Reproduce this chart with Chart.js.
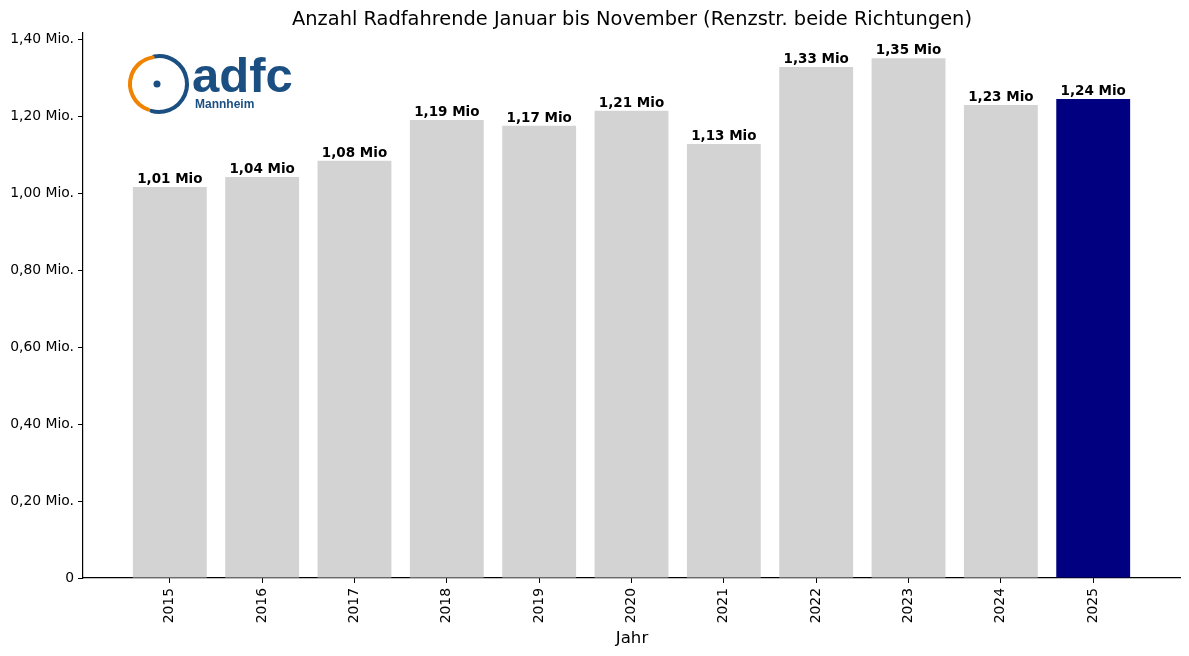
<!DOCTYPE html>
<html>
<head>
<meta charset="utf-8">
<script src="https://cdn.jsdelivr.net/npm/chart.js@4.4.1/dist/chart.umd.min.js"></script>
<style>
  html, body { margin: 0; padding: 0; background: #fff; }
  canvas { display: block; }
</style>
</head>
<body>
<canvas id="barChart" width="1189" height="656"></canvas>
<script>
// Radfahrende Renzstr., Jan-Nov, in Mio.
const years = ["2015","2016","2017","2018","2019","2020","2021","2022","2023","2024","2025"];
const riders = [1.017, 1.043, 1.085, 1.191, 1.176, 1.215, 1.129, 1.329, 1.352, 1.230, 1.246];
const barLabels = ["1,01 Mio","1,04 Mio","1,08 Mio","1,19 Mio","1,17 Mio","1,21 Mio","1,13 Mio","1,33 Mio","1,35 Mio","1,23 Mio","1,24 Mio"];
const yTicks = [0, 0.2, 0.4, 0.6, 0.8, 1.0, 1.2, 1.4];

const FONT = "'DejaVu Sans', sans-serif";
const barColors = years.map((y) => y === "2025" ? "#000080" : "#d3d3d3");

const extras = {
    id: "extras",
    afterDatasetsDraw(chart) {
        const ctx = chart.ctx;
        const meta = chart.getDatasetMeta(0);
        ctx.save();
        ctx.fillStyle = "#000";
        ctx.font = "bold 13.5px " + FONT;
        ctx.textAlign = "center";
        ctx.textBaseline = "bottom";
        meta.data.forEach((bar, i) => {
            ctx.fillText(barLabels[i], bar.x, bar.y - 1);
        });

        // title
        ctx.font = "19.4px " + FONT;
        ctx.textBaseline = "alphabetic";
        ctx.fillText("Anzahl Radfahrende Januar bis November (Renzstr. beide Richtungen)", 632, 25);

        // x axis label
        ctx.font = "16.6px " + FONT;
        ctx.fillText("Jahr", 632, 643);

        // logo
        const cx = 158, cy = 84;
        ctx.lineCap = "round";
        ctx.strokeStyle = "#1b4f82";
        ctx.lineWidth = 4;
        ctx.beginPath();
        ctx.arc(cx + 1, cy, 28, -1.75, 1.85);
        ctx.stroke();
        ctx.strokeStyle = "#f08300";
        ctx.beginPath();
        ctx.arc(cx - 1, cy, 27, 1.9, 4.55);
        ctx.stroke();
        ctx.fillStyle = "#1b4f82";
        ctx.beginPath();
        ctx.arc(cx - 1, cy, 3.5, 0, Math.PI * 2);
        ctx.fill();
        ctx.textAlign = "left";
        ctx.font = "bold 49px 'Liberation Sans', sans-serif";
        ctx.fillText("adfc", 192, 92);
        ctx.font = "bold 12px 'Liberation Sans Narrow', 'Liberation Sans', sans-serif";
        ctx.fillText("Mannheim", 195, 108);
        ctx.restore();
    }
};

new Chart(document.querySelector("#barChart"), {
    type: "bar",
    data: {
        datasets: [{
            data: riders.map((v, i) => ({ x: i, y: v })),
            backgroundColor: barColors,
            barPercentage: 1.0,
            categoryPercentage: 0.8
        }]
    },
    options: {
        responsive: false,
        animation: false,
        layout: { padding: { top: 33, right: 9, left: 0, bottom: 0 } },
        plugins: {
            legend: { display: false },
            tooltip: { enabled: false },
            title: { display: false }
        },
        scales: {
            x: {
                type: "linear",
                offset: false,
                min: -0.94,
                max: 10.94,
                afterBuildTicks: (axis) => { axis.ticks = years.map((y, i) => ({ value: i })); },
                afterFit: (scale) => { scale.height = 78; },
                grid: { offset: false, drawOnChartArea: false, drawTicks: true, tickLength: 5, tickColor: "#000" },
                border: { display: true, color: "#000", width: 1.2 },
                ticks: {
                    color: "#000",
                    font: { family: FONT, size: 13.9 },
                    minRotation: 90,
                    maxRotation: 90,
                    padding: 5,
                    callback: (v) => years[v]
                }
            },
            y: {
                min: 0,
                max: 1.4175,
                afterBuildTicks: (axis) => { axis.ticks = yTicks.map((v) => ({ value: v })); },
                afterFit: (scale) => { scale.width = 83; },
                grid: { drawOnChartArea: false, drawTicks: true, tickLength: 5, tickColor: "#000" },
                border: { display: true, color: "#000", width: 1.2 },
                ticks: {
                    color: "#000",
                    font: { family: FONT, size: 13.9 },
                    padding: 4,
                    callback: (v) => v === 0 ? "0" : v.toFixed(2).replace(".", ",") + " Mio."
                }
            }
        }
    },
    plugins: [extras]
});
</script>
</body>
</html>
